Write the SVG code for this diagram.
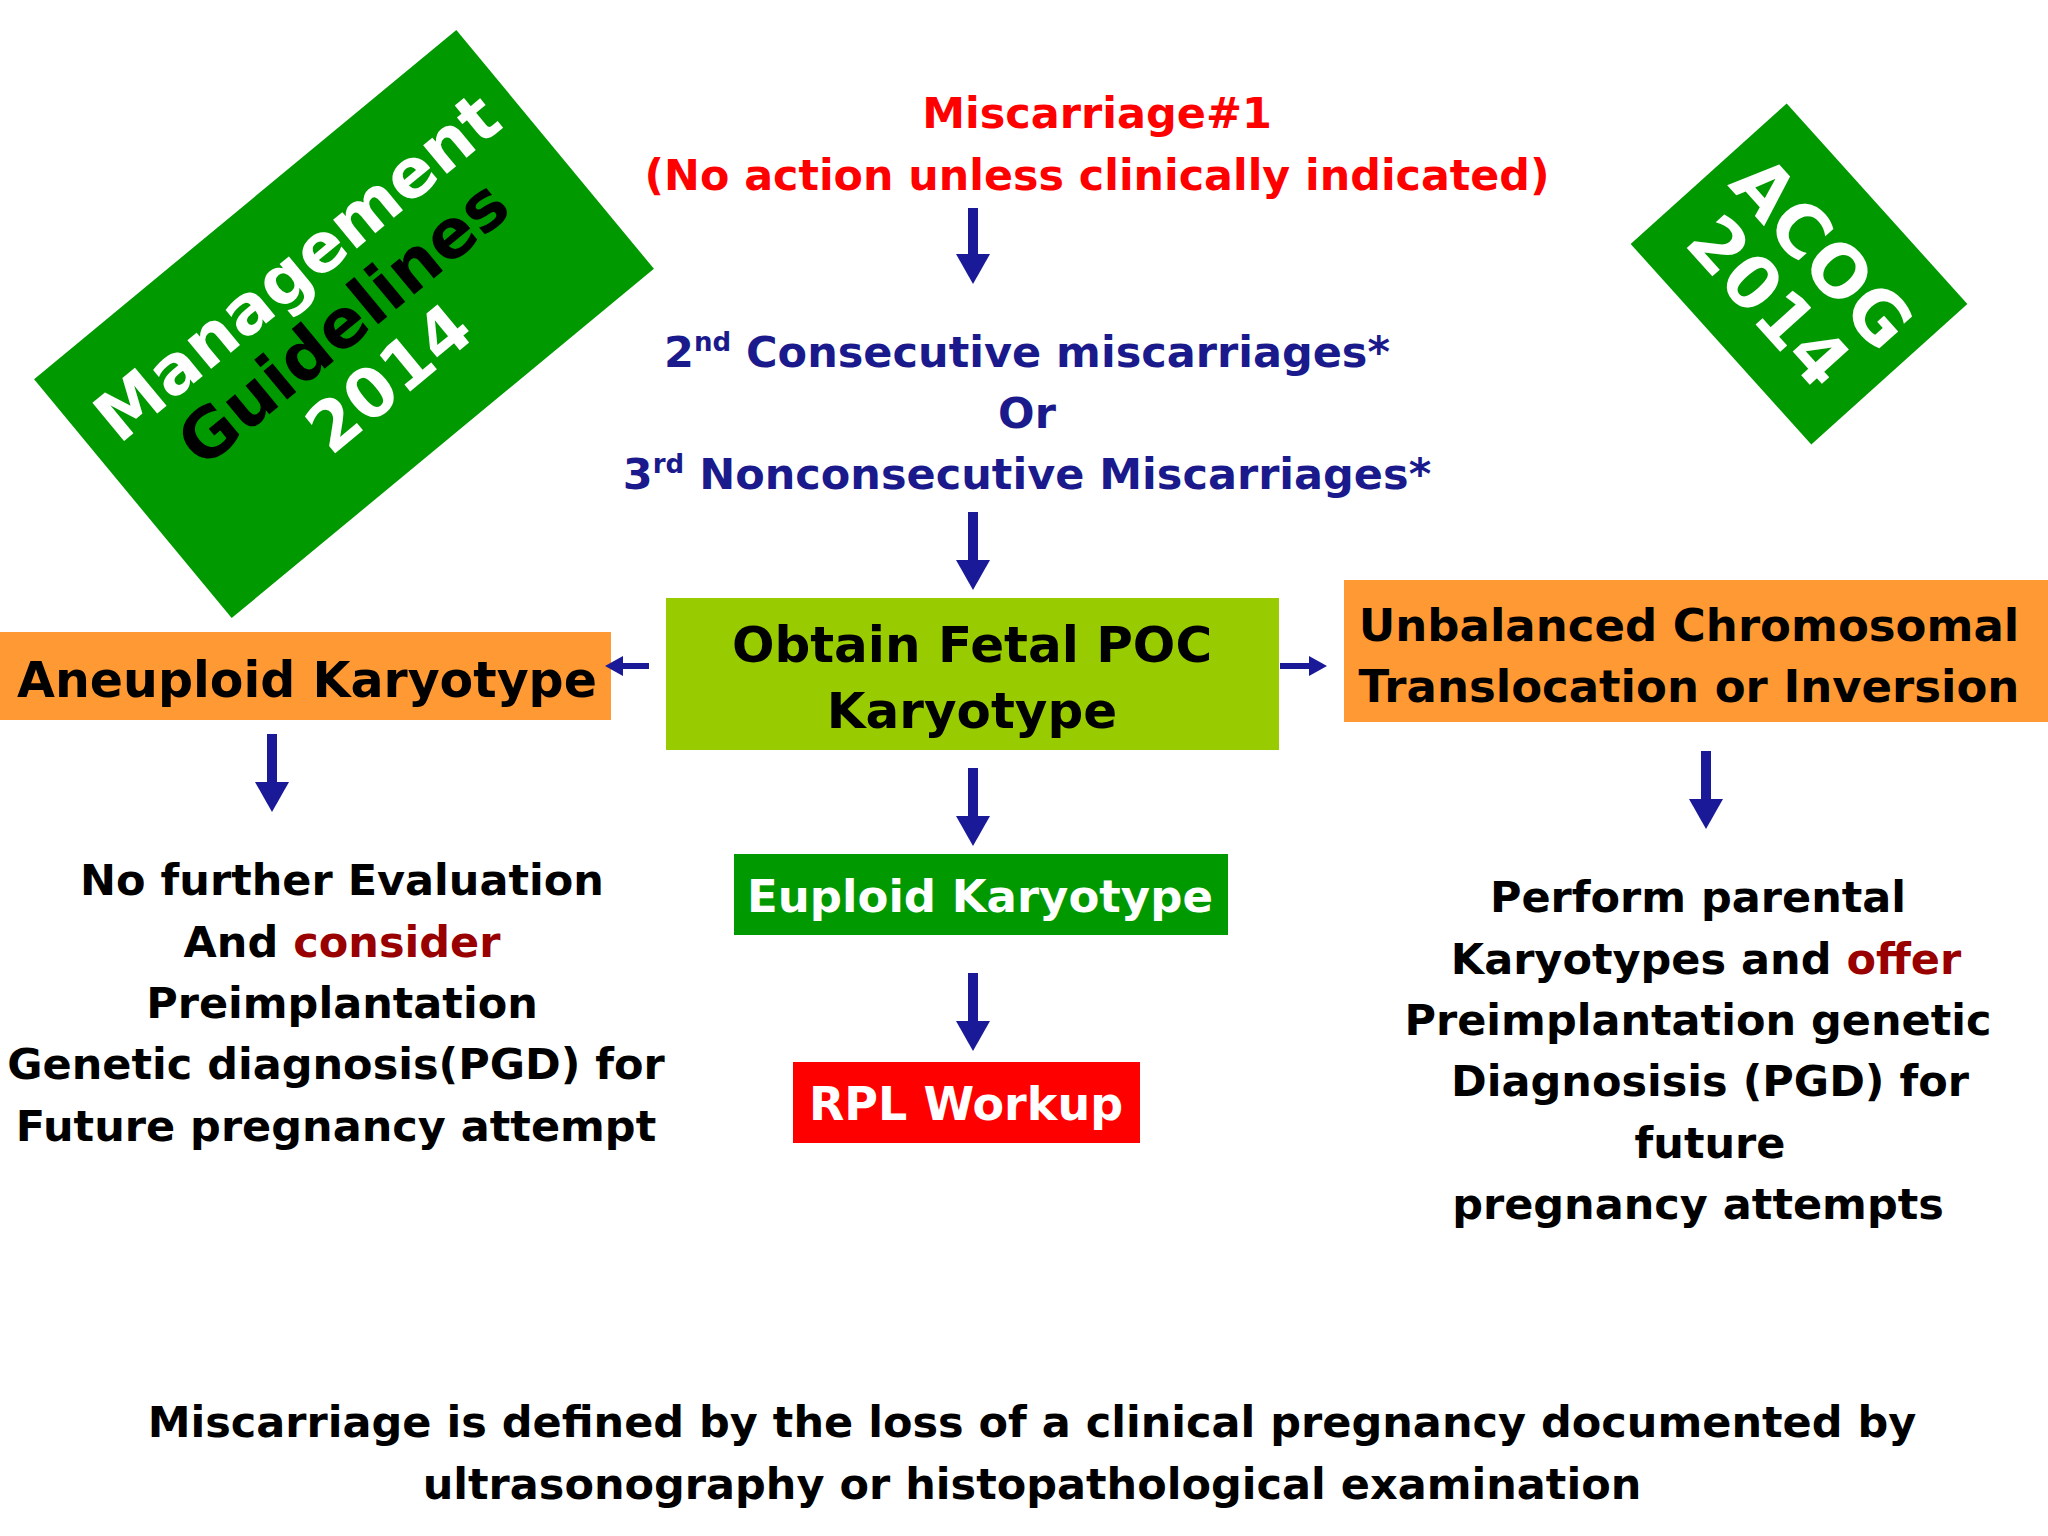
<svg xmlns="http://www.w3.org/2000/svg" width="2048" height="1536" viewBox="0 0 2048 1536">
<style>
text{font-family:"DejaVu Sans","Liberation Sans",sans-serif;font-weight:bold;text-anchor:middle}
.t{font-size:43px}
.red{fill:#ff0000}.navy{fill:#1a1a8c}.blk{fill:#000}.dr{fill:#990000}.wh{fill:#fff}
.arr{stroke:#1a1a99;stroke-width:10;fill:none;marker-end:url(#ah)}
.sarr{stroke:#1a1a99;stroke-width:6;fill:none;marker-end:url(#sh)}
</style>
<defs>
<marker id="ah" markerUnits="userSpaceOnUse" markerWidth="40" markerHeight="40" refX="4" refY="17" orient="auto">
<path d="M0,0 L30,17 L0,34 z" fill="#1a1a99"/>
</marker>
<marker id="sh" markerUnits="userSpaceOnUse" markerWidth="30" markerHeight="30" refX="3" refY="10" orient="auto">
<path d="M0,0 L18,10 L0,20 z" fill="#1a1a99"/>
</marker>
</defs>
<rect width="2048" height="1536" fill="#fff"/>
<g id="mg">
<g transform="translate(344,324) rotate(-39.6)">
<rect x="-274" y="-155" width="548" height="310" fill="#009900"/>
<text y="-50" font-size="68" class="wh">Management</text>
<text y="22" font-size="68" class="blk">Guidelines</text>
<text y="94" font-size="68" class="wh">2014</text>
</g>
</g>
<g id="acog">
<g transform="translate(1799,274) rotate(48)">
<rect x="-135" y="-105" width="270" height="210" fill="#009900"/>
<text y="-6" font-size="72" class="wh">ACOG</text>
<text y="66" font-size="72" class="wh">2014</text>
</g>
</g>
<g id="m1">
<text x="1097" y="128" class="t red">Miscarriage#1</text>
<text x="1097" y="190" class="t red" textLength="905" lengthAdjust="spacingAndGlyphs">(No action unless clinically indicated)</text>
</g>
<g id="m2">
<text x="1027" y="367" class="t navy">2<tspan font-size="26" dy="-16">nd</tspan><tspan dy="16"> Consecutive miscarriages*</tspan></text>
<text x="1027" y="428" class="t navy">Or</text>
<text x="1027" y="489" class="t navy">3<tspan font-size="26" dy="-16">rd</tspan><tspan dy="16"> Nonconsecutive Miscarriages*</tspan></text>
</g>
<g id="poc">
<rect x="666" y="598" width="613" height="152" fill="#99cc00"/>
<text x="972" y="662" font-size="50" class="blk">Obtain Fetal POC</text>
<text x="972" y="728" font-size="50" class="blk">Karyotype</text>
</g>
<g id="aneu">
<rect x="0" y="632" width="611" height="88" fill="#ff9933"/>
<text x="307" y="697" font-size="49" class="blk">Aneuploid Karyotype</text>
</g>
<g id="unbal">
<rect x="1344" y="580" width="704" height="142" fill="#ff9933"/>
<text x="1689" y="641" font-size="45" class="blk">Unbalanced Chromosomal</text>
<text x="1689" y="702" font-size="45" class="blk">Translocation or Inversion</text>
</g>
<g id="eup">
<rect x="734" y="854" width="494" height="81" fill="#009900"/>
<text x="980" y="912" font-size="45" class="wh">Euploid Karyotype</text>
</g>
<g id="rpl">
<rect x="793" y="1062" width="347" height="81" fill="#ff0000"/>
<text x="966" y="1120" font-size="46" class="wh">RPL Workup</text>
</g>
<g id="left">
<text x="342" y="895" class="t blk">No further Evaluation</text>
<text x="342" y="957" class="t blk">And <tspan class="dr">consider</tspan></text>
<text x="342" y="1018" class="t blk">Preimplantation</text>
<text x="336" y="1079" class="t blk">Genetic diagnosis(PGD) for</text>
<text x="336" y="1141" class="t blk">Future pregnancy attempt</text>
</g>
<g id="right">
<text x="1698" y="912" class="t blk">Perform parental</text>
<text x="1706" y="974" class="t blk">Karyotypes and <tspan class="dr">offer</tspan></text>
<text x="1698" y="1035" class="t blk">Preimplantation genetic</text>
<text x="1710" y="1096" class="t blk">Diagnosisis (PGD) for</text>
<text x="1710" y="1158" class="t blk">future</text>
<text x="1698" y="1219" class="t blk">pregnancy attempts</text>
</g>
<g id="foot">
<text x="1032" y="1437" class="t blk">Miscarriage is defined by the loss of a clinical pregnancy documented by</text>
<text x="1032" y="1499" class="t blk">ultrasonography or histopathological examination</text>
</g>
<g id="connectors">
<line x1="973" y1="208" x2="973" y2="258" class="arr"/>
<line x1="973" y1="512" x2="973" y2="564" class="arr"/>
<line x1="973" y1="768" x2="973" y2="820" class="arr"/>
<line x1="973" y1="973" x2="973" y2="1025" class="arr"/>
<line x1="272" y1="734" x2="272" y2="786" class="arr"/>
<line x1="1706" y1="751" x2="1706" y2="803" class="arr"/>
<line x1="649" y1="666" x2="620" y2="666" class="sarr"/>
<line x1="1280" y1="666" x2="1312" y2="666" class="sarr"/>
</g>
</svg>
